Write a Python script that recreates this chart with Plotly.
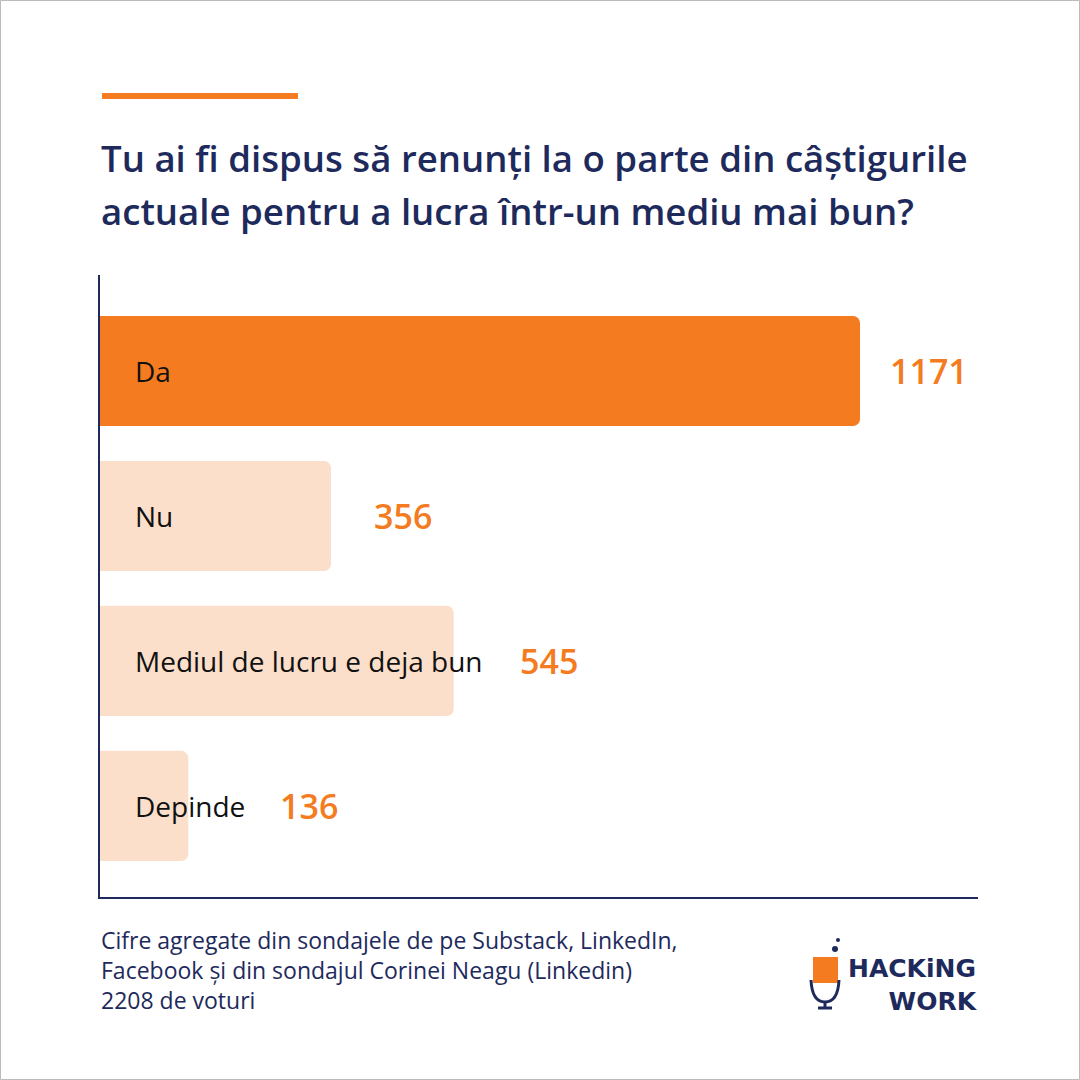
import plotly.graph_objects as go

# -----------------------------
# Data
# -----------------------------

categories = ["Da", "Nu", "Mediul de lucru e deja bun", "Depinde"]
votes = [1171, 356, 545, 136]
bar_colors = ["#F47B20", "#FBDFCB", "#FBDFCB", "#FBDFCB"]
value_shift = [28, 41, 64, 90]  # px gap between bar end and the number

title_lines = [
    "Tu ai fi dispus să renunți la o parte din câștigurile",
    "actuale pentru a lucra într-un mediu mai bun?",
]
footer_lines = [
    "Cifre agregate din sondajele de pe Substack, LinkedIn,",
    "Facebook și din sondajul Corinei Neagu (Linkedin)",
    "2208 de voturi",
]

NAVY = "#1E2A5C"
ORANGE = "#F47B20"
FONT = "Open Sans"

W, H = 1080, 1080
L, R, T, B = 100, 102, 275, 183
PW, PH = W - L - R, H - T - B


def px(x):
    return (x - L) / PW


def py(y):
    return 1 - (y - T) / PH


# -----------------------------
# Bars
# -----------------------------

fig = go.Figure(
    go.Bar(
        x=votes,
        y=categories,
        orientation="h",
        marker=dict(color=bar_colors, line=dict(width=0)),
        width=0.76,
        hoverinfo="skip",
    )
)

# labels inside bars + values after them
for cat, v, sh in zip(categories, votes, value_shift):
    fig.add_annotation(
        x=0, y=cat, xref="x", yref="y", text=cat, showarrow=False,
        xanchor="left", xshift=33,
        font=dict(family=FONT, size=28, color="#111111"),
    )
    fig.add_annotation(
        x=v, y=cat, xref="x", yref="y", text=str(v), showarrow=False,
        xanchor="left", xshift=sh,
        font=dict(family=FONT, size=34, color=ORANGE, weight=600),
    )

# -----------------------------
# Title, footer, decorations
# -----------------------------

for i, line in enumerate(title_lines):
    fig.add_annotation(
        x=px(99), y=py(158 + i * 53), xref="paper", yref="paper",
        text=line, showarrow=False, xanchor="left", yanchor="middle",
        font=dict(family=FONT, size=36.6, color=NAVY, weight=600),
    )

for i, line in enumerate(footer_lines):
    fig.add_annotation(
        x=px(99), y=py(940 + i * 30), xref="paper", yref="paper",
        text=line, showarrow=False, xanchor="left", yanchor="middle",
        font=dict(family=FONT, size=23, color=NAVY),
    )

# logo text
fig.add_annotation(
    x=px(980), y=py(985), xref="paper", yref="paper",
    text="<b>HACKiNG</b><br><b>WORK</b>", align="right",
    showarrow=False, xanchor="right", yanchor="middle",
    font=dict(family="DejaVu Sans", size=25, color=NAVY),
)

shapes = [
    # orange accent line
    dict(type="line", xref="paper", yref="paper",
         x0=px(102), x1=px(298), y0=py(96), y1=py(96),
         line=dict(color=ORANGE, width=6)),
    # outer border
    dict(type="rect", xref="paper", yref="paper",
         x0=px(0.5), x1=px(1079.5), y0=py(0.5), y1=py(1079.5),
         line=dict(color="#BBBBBB", width=1)),
    # logo icon: orange block + mic
    dict(type="rect", xref="paper", yref="paper",
         x0=px(813), x1=px(838), y0=py(957), y1=py(983),
         fillcolor=ORANGE, line=dict(width=0)),
    dict(type="path", xref="paper", yref="paper",
         path=f"M {px(811)},{py(980)} Q {px(812)},{py(1002)} {px(825)},{py(1002)} "
              f"Q {px(838)},{py(1002)} {px(839)},{py(980)}",
         line=dict(color=NAVY, width=3)),
    dict(type="line", xref="paper", yref="paper",
         x0=px(825), x1=px(825), y0=py(1002), y1=py(1008),
         line=dict(color=NAVY, width=3)),
    dict(type="line", xref="paper", yref="paper",
         x0=px(818), x1=px(832), y0=py(1008), y1=py(1008),
         line=dict(color=NAVY, width=3)),
    dict(type="circle", xref="paper", yref="paper",
         x0=px(832), x1=px(838), y0=py(946), y1=py(952),
         fillcolor=NAVY, line=dict(width=0)),
    dict(type="circle", xref="paper", yref="paper",
         x0=px(836), x1=px(840), y0=py(938), y1=py(942),
         fillcolor=NAVY, line=dict(width=0)),
]

fig.update_layout(
    width=W,
    height=H,
    margin=dict(l=L, r=R, t=T, b=B, pad=0),
    paper_bgcolor="white",
    plot_bgcolor="white",
    showlegend=False,
    barcornerradius=7,
    shapes=shapes,
    font=dict(family=FONT),
)

fig.update_xaxes(
    range=[0, 1352.8],
    showgrid=False, zeroline=False, showticklabels=False, ticks="",
    showline=True, linecolor=NAVY, linewidth=2, mirror=False,
)
fig.update_yaxes(
    range=[3.628, -0.662],
    categoryorder="array", categoryarray=categories,
    showgrid=False, zeroline=False, showticklabels=False, ticks="",
    showline=True, linecolor=NAVY, linewidth=2,
)

fig.write_html(
    "out.html",
    config={"displayModeBar": False},
    post_script="document.body.style.margin='0px';",
)
